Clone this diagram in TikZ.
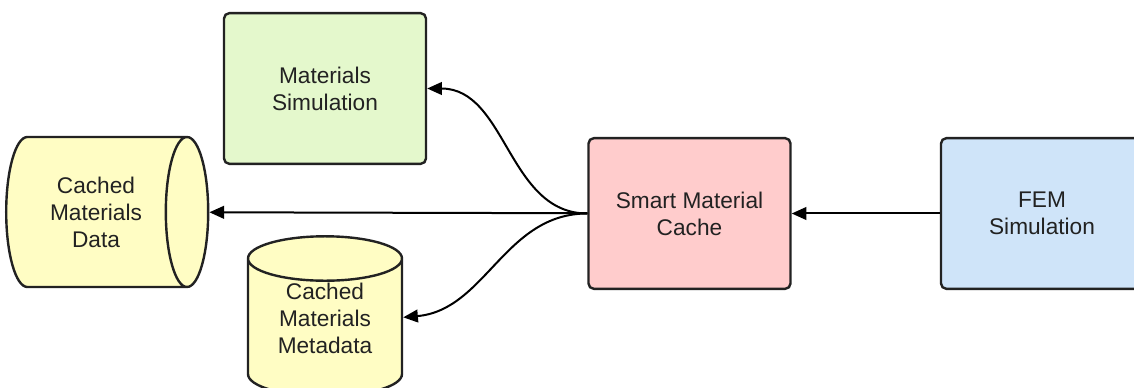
\documentclass[tikz,border=0pt]{standalone}
\usepackage{fontspec}
\setmainfont{Liberation Sans}
\usetikzlibrary{arrows.meta,shapes.geometric}
\definecolor{simgreen}{HTML}{E4F8CC}
\definecolor{cachered}{HTML}{FFCCCC}
\definecolor{femblue}{HTML}{CFE4F9}
\definecolor{storeyellow}{HTML}{FFFDC4}
\definecolor{inkgray}{HTML}{222222}
\tikzset{>={Triangle[length=11pt,width=9.5pt]},
  block/.style={draw=inkgray,line width=1.8pt,rounded corners=4pt,
    minimum width=151.5pt,minimum height=113pt,align=center,text=inkgray},
  store/.style={cylinder,draw=inkgray,line width=1.8pt,fill=storeyellow,
    align=center,text=inkgray,inner sep=0pt}}

\begin{document}
\begin{tikzpicture}[x=0.75pt,y=-0.75pt,line width=1.5pt,
  font=\fontsize{17}{20.25}\selectfont]
\useasboundingbox (0,0) rectangle (1134,388);
\node[block,fill=simgreen] (matsim) at (325,88.5) {Materials\\Simulation};
\node[block,fill=cachered] (cache) at (689.5,213.5) {Smart Material\\Cache};
\node[block,fill=femblue] (fem) at (1042,213.5) {FEM\\Simulation};
\node[store,minimum width=112.5pt,minimum height=151.5pt,aspect=0.6] (data) at (96,212) {Cached\\Materials\\Data};
\node[store,shape border rotate=90,minimum width=115.5pt,minimum height=120pt,aspect=0.47,text depth=15pt] (meta) at (325,328) {Cached\\Materials\\Metadata};

\draw[->] (fem) -- (cache);
\draw[->] (cache) -- (data);
\draw[->] (cache.west) to[out=180,in=0] (matsim.east);
\draw[->] (cache.west) to[out=180,in=5] ([yshift=8pt]meta.east);
\end{tikzpicture}
\end{document}
